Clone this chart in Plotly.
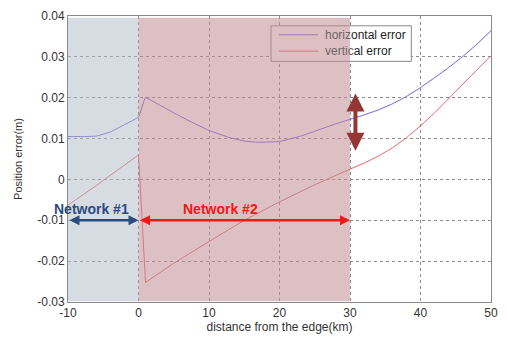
import plotly.graph_objects as go

# ---- data ----
dist_h = [-10, -8, -6, -4, -2, 0, 1, 3, 5, 7, 10, 13, 15, 17, 20, 23, 25, 28, 30,
          32, 34, 36, 38, 40, 42, 44, 46, 48, 50]
horizontal_err = [0.0105, 0.0105, 0.0106, 0.0116, 0.0134, 0.0153, 0.0200, 0.0182,
                  0.0163, 0.0145, 0.0120, 0.0102, 0.0094, 0.0091, 0.0093, 0.0106,
                  0.0118, 0.0136, 0.0147, 0.0158, 0.0170, 0.0185, 0.0203, 0.0225,
                  0.0249, 0.0274, 0.0301, 0.0331, 0.0364]

dist_v = [-10, -8, -6, -4, -2, 0, 1, 5, 10, 15, 20, 25, 30, 32, 34, 36, 38, 40, 42,
          44, 46, 48, 50]
vertical_err = [-0.0063, -0.0040, -0.0015, 0.0010, 0.0035, 0.0060, -0.0252, -0.0205,
                -0.0152, -0.0100, -0.0055, -0.0013, 0.0025, 0.0040, 0.0057, 0.0077,
                0.0102, 0.0131, 0.0163, 0.0198, 0.0233, 0.0268, 0.0303]

x_ticks = [-10, 0, 10, 20, 30, 40, 50]
x_tick_labels = ["-10", "0", "10", "20", "30", "40", "50"]
y_ticks = [0.04, 0.03, 0.02, 0.01, 0, -0.01, -0.02, -0.03]
y_tick_labels = ["0.04", "0.03", "0.02", "0.01", "0", "-0.01", "-0.02", "-0.03"]

net1_range = [-10, 0]
net2_range = [0, 30]
series_names = ["horizontal error", "vertical error"]

H_COLOR = "#6b5ee0"
V_COLOR = "#e36a6a"
FONT = "Liberation Sans, Arial, sans-serif"

fig = go.Figure()
fig.add_trace(go.Scatter(x=dist_h, y=horizontal_err, mode="lines", name=series_names[0],
                         line=dict(color=H_COLOR, width=1, shape="spline", smoothing=0.3),
                         showlegend=False))
fig.add_trace(go.Scatter(x=dist_v, y=vertical_err, mode="lines", name=series_names[1],
                         line=dict(color=V_COLOR, width=1), showlegend=False))

shapes = []
# custom legend box (drawn before shading so shading overlays it)
shapes.append(dict(type="rect", xref="x", yref="y", x0=18.8, x1=38.7, y0=0.0289, y1=0.0376,
                   fillcolor="white", line=dict(color="#8a8a8a", width=1), layer="above"))
shapes.append(dict(type="line", xref="x", yref="y", x0=19.9, x1=25.5, y0=0.0354, y1=0.0354,
                   line=dict(color=H_COLOR, width=1), layer="above"))
shapes.append(dict(type="line", xref="x", yref="y", x0=19.9, x1=25.5, y0=0.0314, y1=0.0314,
                   line=dict(color=V_COLOR, width=1), layer="above"))
# shaded network regions
shapes.append(dict(type="rect", xref="x", yref="y", x0=net1_range[0], x1=net1_range[1],
                   y0=-0.0298, y1=0.0396, fillcolor="rgba(173,185,197,0.5)",
                   line=dict(width=0), layer="above"))
shapes.append(dict(type="rect", xref="x", yref="y", x0=net2_range[0], x1=net2_range[1],
                   y0=-0.0298, y1=0.0396, fillcolor="rgba(193,140,148,0.55)",
                   line=dict(width=0), layer="above"))

annotations = [
    dict(x=26.1, y=0.0354, xref="x", yref="y", xanchor="left", yanchor="middle",
         showarrow=False, font=dict(family=FONT, size=12, color="#222"),
         text="<span style='color:#6f6468'>horiz</span>ontal error"),
    dict(x=26.1, y=0.0314, xref="x", yref="y", xanchor="left", yanchor="middle",
         showarrow=False, font=dict(family=FONT, size=12, color="#222"),
         text="<span style='color:#6f6468'>vertic</span>al error"),
    # Network #1 arrow + label
    dict(x=net1_range[1], y=-0.01, ax=net1_range[0], ay=-0.01, xref="x", yref="y",
         axref="x", ayref="y", text="", showarrow=True, arrowside="end+start",
         arrowhead=2, arrowsize=0.8, arrowwidth=2.5, arrowcolor="#2b4c82"),
    dict(x=-6.7, y=-0.0073, xref="x", yref="y", text="<b>Network #1</b>", showarrow=False,
         font=dict(family=FONT, size=14, color="#2b4c82")),
    # Network #2 arrow + label
    dict(x=net2_range[1], y=-0.01, ax=net2_range[0], ay=-0.01, xref="x", yref="y",
         axref="x", ayref="y", text="", showarrow=True, arrowside="end+start",
         arrowhead=2, arrowsize=0.8, arrowwidth=2.5, arrowcolor="#f01818"),
    dict(x=11.7, y=-0.0073, xref="x", yref="y", text="<b>Network #2</b>", showarrow=False,
         font=dict(family=FONT, size=14, color="#f01818")),
    # vertical double arrow
    dict(x=30.77, y=0.0070, ax=30.77, ay=0.0214, xref="x", yref="y",
         axref="x", ayref="y", text="", showarrow=True, arrowside="end+start",
         arrowhead=2, arrowsize=0.9, arrowwidth=4, arrowcolor="#943634"),
]

fig.update_layout(
    width=507, height=340,
    margin=dict(l=68, r=9, t=15, b=34),
    paper_bgcolor="white", plot_bgcolor="white",
    font=dict(family=FONT, size=12, color="#333"),
    shapes=shapes, annotations=annotations,
    xaxis=dict(range=[-10, 50], tickvals=x_ticks, ticktext=x_tick_labels,
               showgrid=True, gridcolor="#8c8c8c", griddash="dot", gridwidth=1,
               showline=True, linecolor="#8a8a8a", linewidth=1, mirror=True,
               zeroline=False, ticks="", tickfont=dict(size=12, color="#333"),
               title=dict(text="distance from the edge(km)", standoff=2,
                          font=dict(size=12, color="#333"))),
    yaxis=dict(range=[-0.03, 0.04], tickvals=y_ticks, ticktext=y_tick_labels,
               showgrid=True, gridcolor="#8c8c8c", griddash="dot", gridwidth=1,
               showline=True, linecolor="#8a8a8a", linewidth=1, mirror=True,
               zeroline=False, ticks="", tickfont=dict(size=12, color="#333"),
               title=dict(text="Position error(m)", standoff=12,
                          font=dict(size=11, color="#333"))),
)

fig.write_html("out.html")
